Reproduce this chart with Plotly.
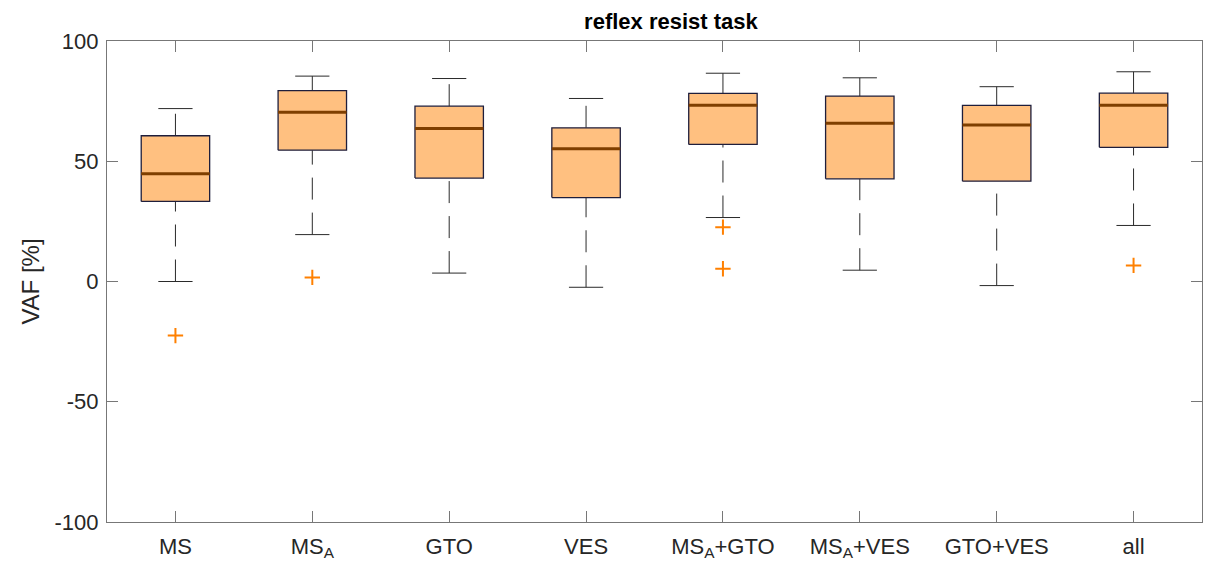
import plotly.graph_objects as go

# Box-plot summary statistics of VAF [%] per reflex model
labels = ["MS", "MS<sub>A</sub>", "GTO", "VES", "MS<sub>A</sub>+GTO",
          "MS<sub>A</sub>+VES", "GTO+VES", "all"]
whisker_low = [0.0, 19.5, 3.5, -2.4, 26.6, 4.7, -1.7, 23.3]
q1 = [33.3, 54.6, 43.0, 34.9, 57.0, 42.7, 41.7, 55.8]
median = [44.8, 70.4, 63.6, 55.2, 73.3, 65.8, 65.1, 73.3]
q3 = [60.6, 79.4, 72.9, 63.9, 78.2, 77.1, 73.2, 78.3]
whisker_high = [71.9, 85.4, 84.4, 76.1, 86.6, 84.7, 81.0, 87.2]
outliers = [[-22.5], [1.7], [], [], [22.6, 5.3], [], [], [6.7]]
y_ticks = [-100, -50, 0, 50, 100]
y_ticktext = ["-100", "-50", "0", "50", "100"]

BOX_HALF = 0.25
CAP_HALF = 0.125
FILL = "#FFC080"
EDGE = "#1E1E3C"
MED = "#7F3F00"
WHISK = "#2a2a2a"
OUTC = "#FF8000"
FONT = "Liberation Sans, Arial, sans-serif"

pos = list(range(1, len(labels) + 1))

fig = go.Figure()

# whiskers (dashed), drawn from the lower value upward
wx, wy = [], []
for p, lo, a, b, hi in zip(pos, whisker_low, q1, q3, whisker_high):
    wx += [p, p, None, p, p, None]
    wy += [lo, a, None, b, hi, None]
fig.add_trace(go.Scatter(x=wx, y=wy, mode="lines",
                         line=dict(color=WHISK, width=1, dash="22px,13px"),
                         hoverinfo="skip", showlegend=False))

# whisker caps
cx, cy = [], []
for p, lo, hi in zip(pos, whisker_low, whisker_high):
    cx += [p - CAP_HALF, p + CAP_HALF, None, p - CAP_HALF, p + CAP_HALF, None]
    cy += [lo, lo, None, hi, hi, None]
fig.add_trace(go.Scatter(x=cx, y=cy, mode="lines",
                         line=dict(color=WHISK, width=1),
                         hoverinfo="skip", showlegend=False))

# filled boxes
for p, a, b in zip(pos, q1, q3):
    fig.add_trace(go.Scatter(
        x=[p - BOX_HALF, p + BOX_HALF, p + BOX_HALF, p - BOX_HALF, p - BOX_HALF],
        y=[a, a, b, b, a], mode="lines", fill="toself", fillcolor=FILL,
        line=dict(color=EDGE, width=1.3), hoverinfo="skip", showlegend=False))

# medians
mx, my = [], []
for p, m in zip(pos, median):
    mx += [p - BOX_HALF, p + BOX_HALF, None]
    my += [m, m, None]
fig.add_trace(go.Scatter(x=mx, y=my, mode="lines",
                         line=dict(color=MED, width=3),
                         hoverinfo="skip", showlegend=False))

# outliers
ox, oy = [], []
for p, vals in zip(pos, outliers):
    for v in vals:
        ox.append(p)
        oy.append(v)
fig.add_trace(go.Scatter(x=ox, y=oy, mode="markers",
                         marker=dict(symbol="cross-thin", size=11,
                                     line=dict(color=OUTC, width=2)),
                         hoverinfo="skip", showlegend=False))

axis_common = dict(showline=True, linecolor="#777777", linewidth=1.3,
                   mirror="ticks", ticks="inside", ticklen=11,
                   tickcolor="#777777", tickwidth=1, showgrid=False,
                   zeroline=False, automargin=False,
                   tickfont=dict(family=FONT, size=22, color="#262626"))

fig.update_layout(
    width=1216, height=568,
    margin=dict(l=107, r=14, t=41, b=46),
    paper_bgcolor="white", plot_bgcolor="white",
    title=dict(text="<b>reflex resist task</b>", x=0.515, xref="paper",
               xanchor="center", y=1, yref="paper", yanchor="bottom",
               pad=dict(b=12),
               font=dict(family=FONT, size=22, color="#000000")),
    xaxis=dict(range=[0.5, 8.5], tickvals=pos, ticktext=labels,
               ticklabelstandoff=4, **axis_common),
    yaxis=dict(range=[-100, 100], tickvals=y_ticks, ticktext=y_ticktext,
               ticklabelstandoff=3,
               title=dict(text="VAF [%]", standoff=8,
                          font=dict(family=FONT, size=24, color="#262626")),
               **axis_common),
)

fig.write_html("out.html")
